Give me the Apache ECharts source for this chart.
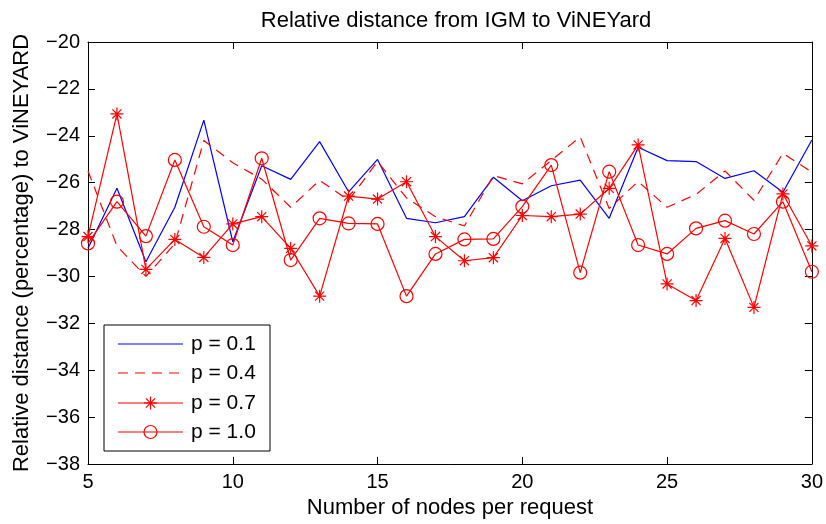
<!DOCTYPE html>
<html><head><meta charset="utf-8">
<script src="https://cdn.jsdelivr.net/npm/echarts@6/dist/echarts.min.js"></script>
<style>html,body{margin:0;padding:0;background:#fff}#c{width:826px;height:524px}</style>
</head><body><div id="c"></div>
<script>
const nodes = [5,6,7,8,9,10,11,12,13,14,15,16,17,18,19,20,21,22,23,24,25,26,27,28,29,30];
const p01 = [-28.8,-26.24,-29.37,-27.05,-23.33,-28.52,-25.28,-25.86,-24.25,-26.39,-25.01,-27.52,-27.71,-27.45,-25.77,-26.77,-26.13,-25.89,-27.52,-24.49,-25.06,-25.1,-25.82,-25.49,-26.41,-24.18];
const p04 = [-25.5,-28.7,-30.0,-28.6,-24.2,-25.15,-25.85,-27.05,-25.9,-26.75,-25.1,-26.65,-27.45,-27.85,-25.7,-26.05,-25.05,-24.05,-27.1,-25.95,-27.05,-26.5,-25.5,-26.75,-24.75,-25.55];
const p07 = [-28.3,-23.07,-29.7,-28.42,-29.19,-27.76,-27.45,-28.8,-30.84,-26.57,-26.7,-25.96,-28.3,-29.33,-29.2,-27.4,-27.45,-27.34,-26.24,-24.39,-30.32,-31.03,-28.38,-31.32,-26.48,-28.7];
const p10 = [-28.59,-26.81,-28.28,-25.03,-27.88,-28.66,-24.96,-29.3,-27.52,-27.74,-27.76,-30.84,-29.04,-28.42,-28.4,-27.02,-25.25,-29.84,-25.53,-28.66,-29.04,-27.95,-27.62,-28.19,-26.81,-29.8];
const seriesNames = ['p = 0.1','p = 0.4','p = 0.7','p = 1.0'];
const titleText = 'Relative distance from IGM to ViNEYard';
const xLabel = 'Number of nodes per request';
const yLabel = 'Relative distance (percentage) to ViNEYARD';

const FONT = "'Liberation Sans', Arial, Helvetica, sans-serif";
const pairs = arr => nodes.map((n, i) => [n, arr[i]]);
const fmtY = v => (v < 0 ? '\u2212' + Math.abs(v) : String(v));
const starPath = 'path://M0,5L10,5M5,0L5,10M1.5,1.5L8.5,8.5M8.5,1.5L1.5,8.5';

const chart = echarts.init(document.getElementById('c'), null, {renderer: 'canvas'});

const axisCommon = {
  axisLine: {show: true, onZero: false, lineStyle: {color: '#000', width: 1}},
  axisTick: {show: true, inside: true, length: 7, lineStyle: {color: '#000', width: 1}},
  splitLine: {show: false}
};

// legend (drawn box)
const L = {x: 104, y: 325, w: 166, h: 126, x1: 118, x2: 183, tx: 191, rows: [344, 373, 403, 432]};
const legendEls = [
  {type: 'rect', shape: {x: L.x, y: L.y, width: L.w, height: L.h}, style: {fill: '#fff', stroke: '#000', lineWidth: 1}, z: 100}
];
const legendStyles = [
  {stroke: '#0000ff', lineWidth: 1.2},
  {stroke: '#ff0000', lineWidth: 1.2, lineDash: [10, 7]},
  {stroke: '#ff0000', lineWidth: 1.2},
  {stroke: '#ff0000', lineWidth: 1.2}
];
seriesNames.forEach((nm, i) => {
  const cy = L.rows[i];
  legendEls.push({type: 'line', shape: {x1: L.x1, y1: cy, x2: L.x2, y2: cy}, style: legendStyles[i], z: 101});
  legendEls.push({type: 'text', x: L.tx, y: cy, style: {text: nm, fill: '#000', font: '21px ' + FONT, verticalAlign: 'middle', textAlign: 'left'}, z: 101});
});
{
  const cx = (L.x1 + L.x2) / 2, cy = L.rows[2], r = 6.5, d = r * 0.7;
  [[cx - r, cy, cx + r, cy], [cx, cy - r, cx, cy + r], [cx - d, cy - d, cx + d, cy + d], [cx + d, cy - d, cx - d, cy + d]].forEach(s => {
    legendEls.push({type: 'line', shape: {x1: s[0], y1: s[1], x2: s[2], y2: s[3]}, style: {stroke: '#ff0000', lineWidth: 1.2}, z: 102});
  });
  legendEls.push({type: 'circle', shape: {cx: cx, cy: L.rows[3], r: 6.5}, style: {fill: 'none', stroke: '#ff0000', lineWidth: 1.2}, z: 102});
}

const option = {
  backgroundColor: '#fff',
  animation: false,
  textStyle: {fontFamily: FONT},
  title: {
    text: titleText, left: 451, top: 5, textAlign: 'center',
    textStyle: {fontFamily: FONT, fontSize: 22, fontWeight: 'normal', color: '#000'}
  },
  grid: {left: 88, top: 42, right: 12, bottom: 60, containLabel: false},
  xAxis: [
    Object.assign({
      type: 'value', min: 5, max: 30, interval: 5, position: 'bottom',
      name: xLabel, nameLocation: 'middle', nameGap: 33,
      nameTextStyle: {fontFamily: FONT, fontSize: 22, color: '#000'},
      axisLabel: {color: '#000', fontFamily: FONT, fontSize: 20, margin: 8}
    }, axisCommon),
    Object.assign({
      type: 'value', min: 5, max: 30, interval: 5, position: 'top',
      axisLabel: {show: false}
    }, axisCommon)
  ],
  yAxis: [
    Object.assign({
      type: 'value', min: -38, max: -20, interval: 2, position: 'left',
      name: yLabel, nameLocation: 'middle', nameGap: 55, nameRotate: 90,
      nameTextStyle: {fontFamily: FONT, fontSize: 22, color: '#000'},
      axisLabel: {color: '#000', fontFamily: FONT, fontSize: 20, margin: 8, formatter: fmtY}
    }, axisCommon),
    Object.assign({
      type: 'value', min: -38, max: -20, interval: 2, position: 'right',
      axisLabel: {show: false}
    }, axisCommon)
  ],
  series: [
    {
      name: seriesNames[0], type: 'line', data: pairs(p01), symbol: 'none',
      lineStyle: {color: '#0000ff', width: 1.2}, itemStyle: {color: '#0000ff'}
    },
    {
      name: seriesNames[1], type: 'line', data: pairs(p04), symbol: 'none',
      lineStyle: {color: '#ff0000', width: 1.2, type: [10, 7]}, itemStyle: {color: '#ff0000'}
    },
    {
      name: seriesNames[2], type: 'line', data: pairs(p07), symbol: starPath, symbolSize: 13,
      lineStyle: {color: '#ff0000', width: 1.2},
      itemStyle: {color: 'rgba(0,0,0,0)', borderColor: '#ff0000', borderWidth: 1.2}
    },
    {
      name: seriesNames[3], type: 'line', data: pairs(p10), symbol: 'circle', symbolSize: 13,
      lineStyle: {color: '#ff0000', width: 1.2},
      itemStyle: {color: 'rgba(0,0,0,0)', borderColor: '#ff0000', borderWidth: 1.2}
    }
  ],
  graphic: legendEls
};
chart.setOption(option);
</script>
</body></html>
